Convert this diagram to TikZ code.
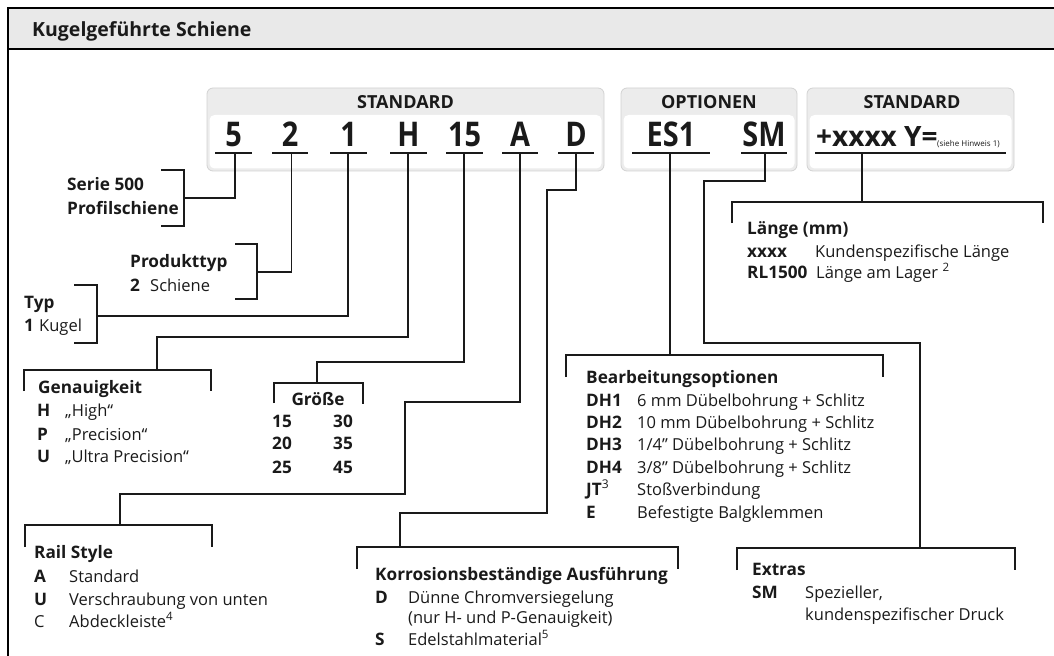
\documentclass[tikz,border=0pt]{standalone}
\usepackage{fontspec}
\setmainfont{Open Sans}
\newfontfamily\condf{Open Sans}[FakeStretch=0.85]
\newcommand\fsz[1]{\fontsize{#1bp}{#1bp}\selectfont}
\definecolor{ink}{HTML}{1A1A1A}
\definecolor{hdrgray}{HTML}{E9E9E9}
\definecolor{boxgray}{HTML}{ECECEC}
\definecolor{boxline}{HTML}{D2D2D2}
\begin{document}
\begin{tikzpicture}[x=1bp,y=-1bp,
  txt/.style={anchor=base west,inner sep=0pt,text=ink,font=\fsz{16.5}},
  bld/.style={anchor=base west,inner sep=0pt,text=ink,font=\fsz{17.2}\bfseries},
  codech/.style={anchor=base,inner sep=0pt,text=ink,font=\condf\fsz{34}\bfseries},
  boxhd/.style={anchor=base,inner sep=0pt,text=ink,font=\fsz{18}\bfseries},
  uline/.style={line width=1.4bp,draw=ink},
  conn/.style={line width=1.2bp,draw=ink},
  frameline/.style={line width=1.8bp,draw=black},
  outerbox/.style={fill=boxgray,draw=boxline,line width=0.8bp,rounded corners=6bp},
  innerbox/.style={fill=white,rounded corners=5bp}
]
\useasboundingbox (0,0) rectangle (1054,656);
% frame and title band
\fill[hdrgray] (8,8) rectangle (1060,49);
\draw[frameline] (1060,8) -- (8,8) -- (8,662);
\draw[frameline] (8,49) -- (1060,49);
\node[anchor=base west,inner sep=0pt,text=ink,font=\fsz{19.5}\bfseries] (title) at (32,37) {Kugelgeführte Schiene};

% code boxes
\draw[outerbox] (207,88) rectangle (604,171);
\fill[innerbox] (209.5,115) rectangle (601.5,168.5);
\draw[outerbox] (621,88) rectangle (797,171);
\fill[innerbox] (623.5,115) rectangle (794.5,168.5);
\draw[outerbox] (807,88) rectangle (1014,171);
\fill[innerbox] (809.5,115) rectangle (1011.5,168.5);
\node[boxhd] (h1) at (405.5,109) {STANDARD};
\node[boxhd] (h2) at (709,109) {OPTIONEN};
\node[boxhd] (h3) at (912,109) {STANDARD};

% code letters
\node[codech] (c5) at (233.5,147) {5};
\node[codech] (c2) at (290,147) {2};
\node[codech] (c1) at (348.5,147) {1};
\node[codech] (cH) at (408.5,147) {H};
\node[codech] (c15) at (464.5,147) {15};
\node[codech] (cA) at (520,147) {A};
\node[codech] (cD) at (576,147) {D};
\node[codech] (cES) at (671,147) {ES1};
\node[codech] (cSM) at (764,147) {SM};
\node[anchor=base west,inner sep=0pt,text=ink,font=\fsz{28}\bfseries] (cX) at (816,147) {+xxxx Y=};
\node[anchor=base west,inner sep=0pt,text=ink,font=\fsz{8}] (cXn) at (937,147) {(siehe Hinweis 1)};

% underlines
\draw[uline] (215,153) -- (252,153);
\draw[uline] (272,153) -- (308,153);
\draw[uline] (330,153) -- (367,153);
\draw[uline] (390,153) -- (427,153);
\draw[uline] (446,153) -- (483,153);
\draw[uline] (502,153) -- (538,153);
\draw[uline] (558,153) -- (594,153);
\draw[uline] (632,153) -- (710,153);
\draw[uline] (741,153) -- (787,153);
\draw[uline] (815,153) -- (1006,153);

% tick start points
\coordinate (t5) at (235,153);
\coordinate (t2) at (291.5,153);
\coordinate (t1) at (348,153);
\coordinate (tH) at (408,153);
\coordinate (t15) at (464,153);
\coordinate (tA) at (520,153);
\coordinate (tD) at (576,153);
\coordinate (tES) at (670,153);
\coordinate (tSM) at (765,153);
\coordinate (tX) at (862,153);

% brackets (attach points)
\coordinate (b5) at (184,198);
\coordinate (b2) at (257,272);
\coordinate (b1) at (97,316);
\coordinate (bH) at (157,370);
\coordinate (b15) at (317,383);
\coordinate (bA) at (120,525);
\coordinate (bD) at (400,547);
\coordinate (bES) at (670,355);
\coordinate (bSM) at (920,548);
\coordinate (bX) at (862,202);

% side brackets
\draw[conn] (161,170) -- (184,170) -- (184,226) -- (161,226);
\draw[conn] (235,244) -- (257,244) -- (257,299) -- (235,299);
\draw[conn] (74,285) -- (97,285) -- (97,343) -- (74,343);
% top brackets
\draw[conn] (24,391) -- (24,370) -- (211,370) -- (211,391);
\draw[conn] (274,403) -- (274,383) -- (363,383) -- (363,404);
\draw[conn] (25,547) -- (25,525) -- (212,525) -- (212,547);
\draw[conn] (357,569) -- (357,547) -- (678,547) -- (678,569);
\draw[conn] (566,377) -- (566,355) -- (883,355) -- (883,377);
\draw[conn] (737,570) -- (737,548) -- (1015,548) -- (1015,570);
\draw[conn] (732,223) -- (732,202) -- (1043,202) -- (1043,223);

% connectors
\draw[conn] (t5) |- (b5);
\draw[conn] (t2) |- (b2);
\draw[conn] (t1) |- (b1);
\draw[conn] (tH) -- (408,337) -| (bH);
\draw[conn] (t15) -- (464,362) -| (b15);
\draw[conn] (tA) -- (520,402) -- (405,402) -- (405,494) -| (bA);
\draw[conn] (tD) -- (576,190) -- (547,190) -- (547,513) -| (bD);
\draw[conn] (tES) -- (bES);
\draw[conn] (tSM) -- (765,181) -- (704,181) -- (704,343) -| (bSM);
\draw[conn] (tX) -- (bX);

% Serie 500
\node[bld] (s1) at (67,191) {Serie 500};
\node[bld] (s2) at (67,214) {Profilschiene};
% Produkttyp
\node[bld] (p1) at (130,267) {Produkttyp};
\node[bld] (p2) at (130,291) {2};
\node[txt] (p3) at (150,291) {Schiene};
% Typ
\node[bld] (y1) at (24,308) {Typ};
\node[bld] (y2) at (24,331) {1};
\node[txt] (y3) at (39,331) {Kugel};
% Genauigkeit
\node[bld] (g0) at (38,393) {Genauigkeit};
\node[bld] (g1) at (37,416) {H};
\node[txt] (g1t) at (65,416) {„High“};
\node[bld] (g2) at (37,440) {P};
\node[txt] (g2t) at (65,440) {„Precision“};
\node[bld] (g3) at (37,462) {U};
\node[txt] (g3t) at (65,462) {„Ultra Precision“};
% Groesse
\node[anchor=base,inner sep=0pt,text=ink,font=\fsz{17.2}\bfseries] (z0) at (318,405) {Größe};
\node[bld] (z1) at (272,427) {15};
\node[bld] (z2) at (333,427) {30};
\node[bld] (z3) at (272,449) {20};
\node[bld] (z4) at (333,449) {35};
\node[bld] (z5) at (272,473) {25};
\node[bld] (z6) at (333,473) {45};
% Rail Style
\node[bld] (r0) at (34,558) {Rail Style};
\node[bld] (r1) at (34,582) {A};
\node[txt] (r1t) at (69,582) {Standard};
\node[bld] (r2) at (34,605) {U};
\node[txt] (r2t) at (69,605) {Verschraubung von unten};
\node[txt] (r3) at (34,627) {C};
\node[txt] (r3t) at (69,627) {Abdeckleiste\textsuperscript{4}};
% Korrosion
\node[bld] (k0) at (375,580) {Korrosionsbeständige Ausführung};
\node[bld] (k1) at (375,603) {D};
\node[txt] (k1t) at (408,603) {Dünne Chromversiegelung};
\node[txt] (k1u) at (408,623) {(nur H- und P-Genauigkeit)};
\node[bld] (k2) at (375,645) {S};
\node[txt] (k2t) at (408,645) {Edelstahlmaterial\textsuperscript{5}};
% Bearbeitungsoptionen
\node[bld] (e0) at (586,383) {Bearbeitungsoptionen};
\node[bld] (e1) at (586,406) {DH1};
\node[txt] (e1t) at (637,406) {6 mm Dübelbohrung + Schlitz};
\node[bld] (e2) at (586,428) {DH2};
\node[txt] (e2t) at (637,428) {10 mm Dübelbohrung + Schlitz};
\node[bld] (e3) at (586,450) {DH3};
\node[txt] (e3t) at (637,450) {1/4” Dübelbohrung + Schlitz};
\node[bld] (e4) at (586,473) {DH4};
\node[txt] (e4t) at (637,473) {3/8” Dübelbohrung + Schlitz};
\node[bld] (e5) at (586,495) {JT\textsuperscript{\mdseries 3}};
\node[txt] (e5t) at (637,495) {Stoßverbindung};
\node[bld] (e6) at (586,518) {E};
\node[txt] (e6t) at (637,518) {Befestigte Balgklemmen};
% Extras
\node[bld] (x0) at (752,575) {Extras};
\node[bld] (x1) at (752,598) {SM};
\node[txt] (x1t) at (805,598) {Spezieller,};
\node[txt] (x1u) at (805,620) {kundenspezifischer Druck};
% Laenge
\node[bld] (l0) at (747,234) {Länge (mm)};
\node[bld] (l1) at (747,257) {xxxx};
\node[txt] (l1t) at (815,257) {Kundenspezifische Länge};
\node[bld] (l2) at (747,278) {RL1500};
\node[txt] (l2t) at (816,278) {Länge am Lager \textsuperscript{2}};
\end{tikzpicture}
\end{document}
